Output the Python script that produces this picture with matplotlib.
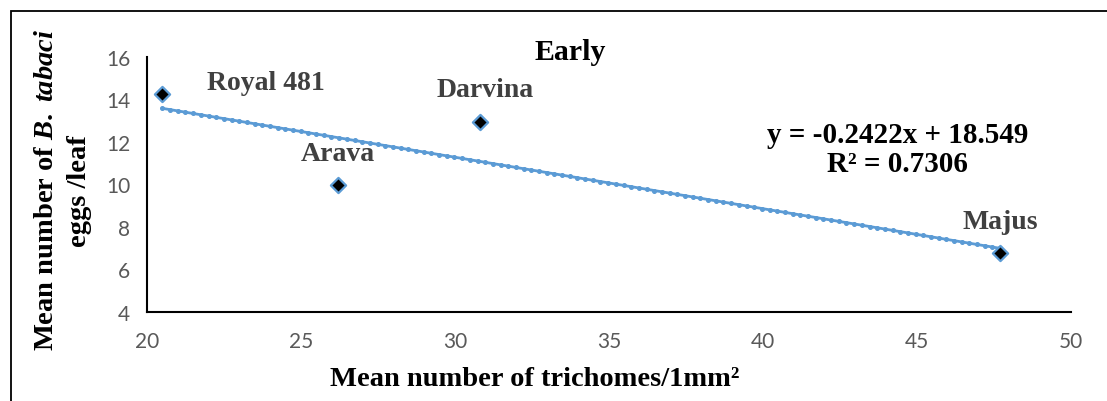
import matplotlib
matplotlib.use("Agg")
import matplotlib.pyplot as plt
import numpy as np
from matplotlib.patches import Rectangle

plt.rcParams["mathtext.fontset"] = "custom"
plt.rcParams["mathtext.rm"] = "Liberation Serif:bold"
plt.rcParams["mathtext.bf"] = "Liberation Serif:bold"
plt.rcParams["mathtext.it"] = "Liberation Serif:bold:italic"
plt.rcParams["mathtext.bfit"] = "Liberation Serif:bold:italic"

varieties = ["Royal 481", "Arava", "Darvina", "Majus"]
trichomes = [20.5, 26.2, 30.8, 47.7]
eggs = [14.25, 10.0, 12.95, 6.8]
slope = -0.2422
intercept = 18.549
r2 = 0.7306
xticks = [20, 25, 30, 35, 40, 45, 50]
yticks = [4, 6, 8, 10, 12, 14, 16]

blue = "#5B9BD5"
serif = "Liberation Serif"
tickfont = "Lato"

fig = plt.figure(figsize=(11.07, 4.02), dpi=100)
ax = fig.add_axes([147/1107, 1 - 313/402, (1071-147)/1107, (313-58)/402])

# trendline
xt = np.array([min(trichomes), max(trichomes)])
ax.plot(xt, slope * xt + intercept, color=blue, lw=2.0, solid_capstyle="round", zorder=2)
xd = np.linspace(xt[0], xt[1], 110)
ax.plot(xd, slope * xd + intercept, ls="none", marker="o", ms=2.6, color=blue, zorder=2)

ax.scatter(trichomes, eggs, marker="D", s=60, facecolor="black", edgecolor=blue, linewidth=1.6, zorder=3)

label_pos = {"Royal 481": (23.86, 14.82), "Arava": (26.2, 11.44), "Darvina": (30.97, 14.45), "Majus": (47.7, 8.28)}
for name in varieties:
    lx, ly = label_pos[name]
    ax.text(lx, ly, name, family=serif, fontweight="bold", fontsize=20, color="#404040", ha="center", va="center")

ax.text(33.73, 16.28, "Early", family=serif, fontweight="bold", fontsize=21.5, ha="center", va="center", clip_on=False)
ax.text(44.38, 11.67, f"y = {slope}x + {intercept}\nR² = {r2}", family=serif, fontweight="bold",
        fontsize=21, ha="center", va="center", linespacing=1.05)

ax.set_xlim(20, 50)
ax.set_ylim(4, 16)
ax.set_xticks(xticks)
ax.set_yticks(yticks)
for s in ["top", "right"]:
    ax.spines[s].set_visible(False)
for s in ["left", "bottom"]:
    ax.spines[s].set_linewidth(1.5)
    ax.spines[s].set_color("black")
ax.tick_params(length=0, labelsize=15, colors="#595959")
ax.tick_params(axis="x", pad=14)
ax.tick_params(axis="y", pad=12)
for lab in ax.get_xticklabels() + ax.get_yticklabels():
    lab.set_family(tickfont)

fig.text(535/1107, 1 - 380/402, "Mean number of trichomes/1mm²", family=serif, fontweight="bold",
         fontsize=20.5, ha="center", va="center")
fig.text(47/1107, 1 - 190/402, r"Mean number of $\mathit{B.}$ $\mathit{tabaci}$", family=serif, fontweight="bold",
         fontsize=20.5, rotation=90, ha="center", va="center")
fig.text(80/1107, 1 - 191/402, "eggs /leaf", family=serif, fontweight="bold",
         fontsize=20.5, rotation=90, ha="center", va="center")

fig.patches.append(Rectangle((11/1107, -0.1), 1.2, 1 - 12/402 + 0.1, transform=fig.transFigure,
                             fill=False, edgecolor="black", linewidth=1.3))

fig.savefig("out.png", dpi=100)
